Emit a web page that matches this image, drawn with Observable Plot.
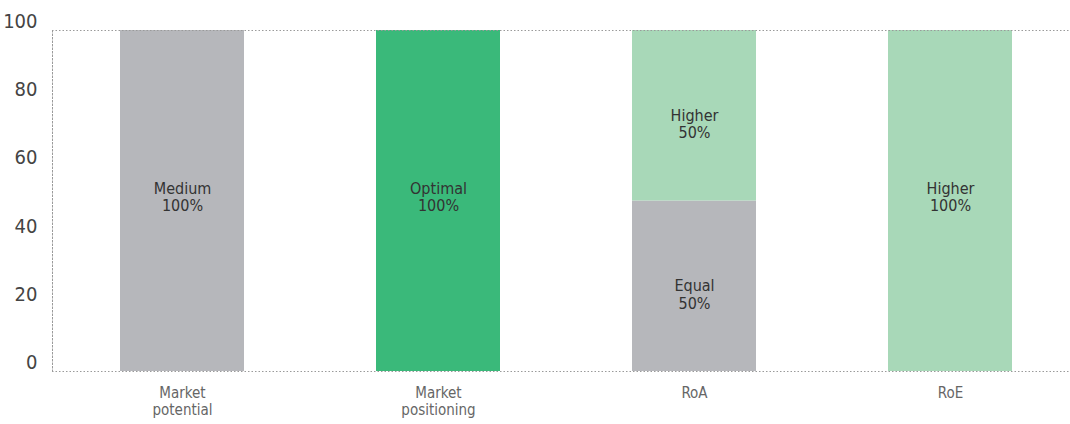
<!DOCTYPE html>
<html>
<head>
<meta charset="utf-8">
<script src="https://cdn.jsdelivr.net/npm/d3@7"></script>
<script src="https://cdn.jsdelivr.net/npm/@observablehq/plot@0.6"></script>
<style>
  html, body { margin: 0; padding: 0; background: #fff; }
  #chart svg { display: block; }
</style>
</head>
<body>
<div id="chart"></div>
<script>
const categories = ["Market\npotential", "Market\npositioning", "RoA", "RoE"];
const segCategory = ["Market\npotential", "Market\npositioning", "RoA", "RoA", "RoE"];
const segLevel = ["Medium", "Optimal", "Equal", "Higher", "Higher"];
const segValue = [100, 100, 50, 50, 100];
const yTicks = [0, 20, 40, 60, 80, 100];
const levels = ["Medium", "Equal", "Optimal", "Higher"];
const levelColors = ["#b6b7bb", "#b6b7bb", "#3ab97a", "#a8d8b8"];

const data = segCategory.map((c, i) => ({
  category: c, level: segLevel[i], value: segValue[i],
  full: segValue[i] === 100
}));

const font = "'Liberation Sans Narrow', 'DejaVu Sans Condensed', 'Roboto', sans-serif";

const chart = Plot.plot({
  width: 1070,
  height: 424,
  marginLeft: 52,
  marginRight: 0,
  marginTop: 30,
  marginBottom: 53,
  style: { fontFamily: font, background: "#fff" },
  x: { domain: categories, range: [52.7, 1079], paddingInner: 0.517, paddingOuter: 0.2585, label: null },
  y: { domain: [0, 100], label: null },
  color: { domain: levels, range: levelColors },
  marks: [
    Plot.barY(data, Plot.stackY({ x: "category", y: "value", fill: "level" })),
    Plot.ruleY([0, 100], { stroke: "#9a9a9a", strokeWidth: 1, strokeDasharray: "1.5,2" }),
    Plot.frame({ anchor: "left", stroke: "#9a9a9a", strokeDasharray: "1.5,2" }),
    Plot.text(data.filter(d => d.full), Plot.stackY({
      x: "category", y: "value",
      text: d => `${d.level}\n${d.value}%`,
      fontSize: 16, lineHeight: 1.1, fill: "#333", dy: -4
    })),
    Plot.text(data.filter(d => !d.full), Plot.stackY({
      x: "category", y: "value",
      text: d => `${d.level}\n${d.value}%`,
      fontSize: 16, lineHeight: 1.1, fill: "#333", dy: 8
    })),
    Plot.axisY({ ticks: yTicks, tickSize: 0, tickPadding: 15, fontSize: 20, dy: -9, fill: "#444", label: null }),
    Plot.axisX({ tickSize: 0, tickPadding: 14, fontSize: 15, lineHeight: 1.15, fill: "#666", label: null })
  ]
});
document.getElementById("chart").appendChild(chart);
</script>
</body>
</html>
